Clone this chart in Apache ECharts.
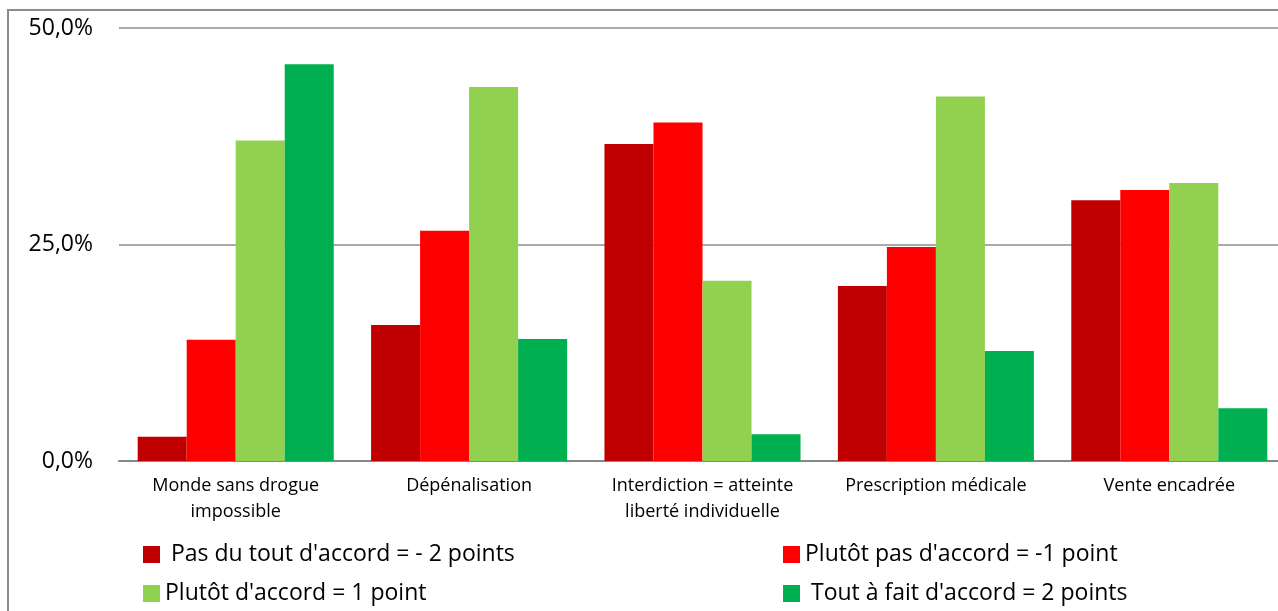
<!DOCTYPE html>
<html>
<head>
<meta charset="utf-8">
<script src="https://cdn.jsdelivr.net/npm/echarts@6/dist/echarts.min.js"></script>
<style>
  html, body { margin: 0; padding: 0; background: #fff; overflow: hidden; }
  #frame { position: absolute; left: 7px; top: 9px; width: 1300px; height: 700px;
           border-left: 2px solid #8c8c8c; border-top: 2px solid #8c8c8c; }
  #chart { position: absolute; left: 0; top: 0; width: 1278px; height: 611px; }
</style>
</head>
<body>
<div id="frame"></div>
<div id="chart"></div>
<script>
var categories = ['Monde sans drogue\nimpossible', 'Dépénalisation', 'Interdiction = atteinte\nliberté individuelle', 'Prescription médicale', 'Vente encadrée'];
var seriesNames = [' Pas du tout d\'accord = - 2 points', 'Plutôt pas d\'accord = -1 point', 'Plutôt d\'accord = 1 point', ' Tout à fait d\'accord = 2 points'];
var pasDuTout = [2.8, 15.7, 36.6, 20.2, 30.1];
var plutotPas = [14.0, 26.6, 39.1, 24.7, 31.3];
var plutotAccord = [37.0, 43.2, 20.8, 42.1, 32.1];
var toutAFait = [45.8, 14.1, 3.1, 12.7, 6.1];
var colors = ['#c00000', '#ff0000', '#92d050', '#00b050'];
var yTicks = [0, 25, 50];

var chart = echarts.init(document.getElementById('chart'));
var font = '"Open Sans", sans-serif';
function legendAt(i, left, top) {
  return {
    data: [seriesNames[i]], left: left, top: top, orient: 'horizontal',
    icon: 'rect', itemWidth: 17, itemHeight: 17, itemGap: 0,
    textStyle: { fontFamily: font, fontSize: 23, color: '#000' }
  };
}
var values = [pasDuTout, plutotPas, plutotAccord, toutAFait];
option = {
  animation: false,
  color: colors,
  grid: { left: 119, width: 1167, top: 28, bottom: 150, containLabel: false, outerBoundsMode: 'none' },
  legend: [legendAt(0, 138, 538), legendAt(1, 778, 538), legendAt(2, 138, 577), legendAt(3, 778, 577)],
  xAxis: {
    type: 'category', data: categories,
    axisLine: { lineStyle: { color: '#868686', width: 2 } },
    axisTick: { show: false },
    axisLabel: { fontFamily: font, fontSize: 18, color: '#000', lineHeight: 26, margin: 12, interval: 0 }
  },
  yAxis: {
    type: 'value', min: 0, max: 50, interval: 25,
    axisLine: { show: false }, axisTick: { show: false },
    splitLine: { lineStyle: { color: '#8c8c8c', width: 1.5 } },
    axisLabel: { fontFamily: font, fontSize: 23, color: '#000', margin: 26,
      formatter: function (v) { return yTicks.indexOf(v) >= 0 ? v.toFixed(1).replace('.', ',') + '%' : ''; } }
  },
  series: values.map(function (d, i) {
    return { name: seriesNames[i], type: 'bar', data: d, barGap: '0%', barCategoryGap: '16%' };
  })
};
if (option && typeof option === "object") {
  chart.setOption(option, true);
}
</script>
</body>
</html>
